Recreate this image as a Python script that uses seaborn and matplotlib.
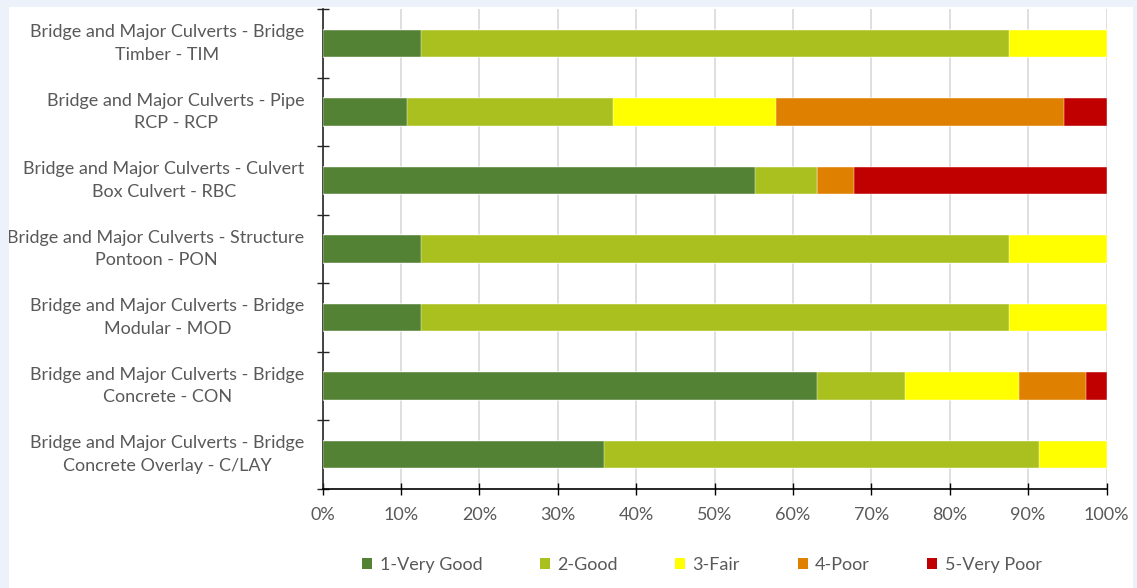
import matplotlib
matplotlib.use("Agg")
import matplotlib.pyplot as plt
from matplotlib.patches import Rectangle, Patch
from matplotlib.ticker import FixedLocator, FuncFormatter
import numpy as np
import pandas as pd
import seaborn as sns

# Asset categories, top to bottom
categories = [
    "Bridge and Major Culverts - Bridge\nTimber - TIM",
    "Bridge and Major Culverts - Pipe\nRCP - RCP",
    "Bridge and Major Culverts - Culvert\nBox Culvert - RBC",
    "Bridge and Major Culverts - Structure\nPontoon - PON",
    "Bridge and Major Culverts - Bridge\nModular - MOD",
    "Bridge and Major Culverts - Bridge\nConcrete - CON",
    "Bridge and Major Culverts - Bridge\nConcrete Overlay - C/LAY",
]

# Condition shares (%) per category
very_good = [12.5, 10.8, 55.2, 12.5, 12.5, 63.1, 35.9]
good      = [75.0, 26.2,  7.9, 75.0, 75.0, 11.2, 55.5]
fair      = [12.5, 20.9,  0.0, 12.5, 12.5, 14.6,  8.6]
poor      = [ 0.0, 36.7,  4.7,  0.0,  0.0,  8.5,  0.0]
very_poor = [ 0.0,  5.4, 32.2,  0.0,  0.0,  2.6,  0.0]

condition_labels = ["1-Very Good", "2-Good", "3-Fair", "4-Poor", "5-Very Poor"]
condition_colors = ["#548235", "#A9C01E", "#FFFF00", "#E08000", "#C00000"]

x_ticks = [0, 10, 20, 30, 40, 50, 60, 70, 80, 90, 100]

series = [very_good, good, fair, poor, very_poor]
cum = np.cumsum(np.array(series), axis=0)

sns.set_theme(style="white")
plt.rcParams["font.family"] = ["Lato", "DejaVu Sans"]

W, H = 1137, 588
fig = plt.figure(figsize=(W / 100, H / 100), dpi=100)
fig.patch.set_facecolor("#EDF1F9")
# white chart area
fig.patches.append(Rectangle((9 / W, 0), (1133 - 9) / W, 1 - 7 / H,
                             transform=fig.transFigure, facecolor="white",
                             edgecolor="none", zorder=-10))

ax = fig.add_axes([322.5 / W, 1 - 489 / H, (1106.5 - 322.5) / W, (489 - 9) / H])

# Stacked bars: draw cumulative extents from the outermost segment inward
for i in range(len(series) - 1, -1, -1):
    df = pd.DataFrame({"category": categories, "end": cum[i]})
    sns.barplot(data=df, x="end", y="category", orient="y", order=categories,
                color=condition_colors[i], saturation=1, width=0.4,
                edgecolor="#FFFFFF", linewidth=0.3, ax=ax, zorder=3)

ax.set_xlim(0, 100)
ax.set_ylim(len(categories) - 0.5, -0.5)
ax.set_xlabel("")
ax.set_ylabel("")

ax.xaxis.set_major_locator(FixedLocator(x_ticks))
ax.xaxis.set_major_formatter(FuncFormatter(lambda v, p: f"{v:.0f}%"))
ax.grid(axis="x", color="#D9D9D9", linewidth=1.2, zorder=0)
ax.grid(axis="y", visible=False)
ax.set_axisbelow(True)

for s in ["top", "right"]:
    ax.spines[s].set_visible(False)
ax.spines["left"].set_color("#262626")
ax.spines["left"].set_linewidth(1.2)
ax.spines["bottom"].set_color("#000000")
ax.spines["bottom"].set_linewidth(1.2)

text_color = "#595959"
fs = 13
ax.tick_params(axis="x", which="major", bottom=True, direction="inout",
               length=8, width=1, color="#000000", labelsize=fs,
               labelcolor=text_color, pad=9)
ax.tick_params(axis="y", which="major", left=True, length=0, labelsize=fs,
               labelcolor=text_color, pad=13)
ax.set_yticks(np.arange(-0.5, len(categories)), minor=True)
ax.tick_params(axis="y", which="minor", left=True, direction="inout",
               length=8, width=1, color="#262626")
for lab in ax.get_yticklabels():
    lab.set_multialignment("center")
    lab.set_linespacing(1.5)
    lab.set_verticalalignment("center")

handles = [Patch(facecolor=c, edgecolor="none", label=l)
           for c, l in zip(condition_colors, condition_labels)]
fig.legend(handles=handles, loc="center", bbox_to_anchor=(702 / W, 1 - 565 / H),
           ncol=5, frameon=False, fontsize=fs, handlelength=0.55,
           handleheight=0.55, handletextpad=0.4, columnspacing=3.2,
           labelcolor=text_color)

# frame strips around the chart area
for (x0, y0, w, h) in [(0, 0, 9, H), (0, 0, W, 7), (1133, 0, W - 1133, H)]:
    fig.patches.append(Rectangle((x0 / W, 1 - (y0 + h) / H), w / W, h / H,
                                 transform=fig.transFigure, facecolor="#EDF1F9",
                                 edgecolor="none", zorder=20))

fig.savefig("out.png", dpi=100)
